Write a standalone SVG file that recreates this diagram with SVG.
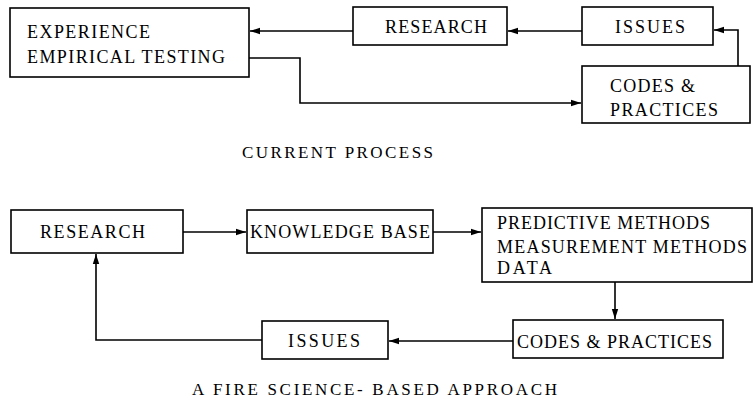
<svg xmlns="http://www.w3.org/2000/svg" width="755" height="400" viewBox="0 0 755 400">
  <style>
    .box { fill: #fff; stroke: #000; stroke-width: 1.6; }
    .lbl { font-family: "Liberation Serif", "Times New Roman", serif; font-size: 18px; fill: #000; }
    .cap { font-family: "Liberation Serif", "Times New Roman", serif; font-size: 17px; fill: #000; }
    .wire { fill: none; stroke: #000; stroke-width: 1.6; }
  </style>
  <defs>
    <marker id="head" markerUnits="userSpaceOnUse" markerWidth="10" markerHeight="8" refX="10" refY="4" orient="auto">
      <path d="M0,0.8 L10,4 L0,7.2 z" fill="#000"/>
    </marker>
  </defs>
  <rect width="755" height="400" fill="#fff"/>

  <!-- current process -->
  <g id="experience">
    <rect class="box" x="10" y="8" width="239" height="69"/>
    <text class="lbl" x="27" y="38" textLength="123" lengthAdjust="spacing">EXPERIENCE</text>
    <text class="lbl" x="27" y="63" textLength="198" lengthAdjust="spacing">EMPIRICAL TESTING</text>
  </g>
  <g id="research-top">
    <rect class="box" x="353" y="7" width="154" height="38"/>
    <text class="lbl" x="385" y="33" textLength="102" lengthAdjust="spacing">RESEARCH</text>
  </g>
  <g id="issues-top">
    <rect class="box" x="582" y="7" width="131" height="38"/>
    <text class="lbl" x="615" y="33" textLength="70" lengthAdjust="spacing">ISSUES</text>
  </g>
  <g id="codes-top">
    <rect class="box" x="582" y="66" width="168" height="57"/>
    <text class="lbl" x="610" y="92" textLength="85" lengthAdjust="spacing">CODES &amp;</text>
    <text class="lbl" x="610" y="116" textLength="108" lengthAdjust="spacing">PRACTICES</text>
  </g>
  <text class="cap" x="242" y="158" textLength="191" lengthAdjust="spacing">CURRENT PROCESS</text>

  <!-- fire science-based approach -->
  <g id="research-bottom">
    <rect class="box" x="11" y="210" width="172" height="43"/>
    <text class="lbl" x="40" y="238" textLength="105" lengthAdjust="spacing">RESEARCH</text>
  </g>
  <g id="knowledge-base">
    <rect class="box" x="247" y="210" width="186" height="43"/>
    <text class="lbl" x="250" y="238" textLength="180" lengthAdjust="spacing">KNOWLEDGE BASE</text>
  </g>
  <g id="methods">
    <rect class="box" x="482" y="208" width="270" height="74"/>
    <text class="lbl" x="497" y="229" textLength="213" lengthAdjust="spacing">PREDICTIVE METHODS</text>
    <text class="lbl" x="497" y="253" textLength="250" lengthAdjust="spacing">MEASUREMENT METHODS</text>
    <text class="lbl" x="497" y="274" textLength="55" lengthAdjust="spacing">DATA</text>
  </g>
  <g id="codes-bottom">
    <rect class="box" x="513" y="320" width="210" height="38"/>
    <text class="lbl" x="517" y="348" textLength="195" lengthAdjust="spacing">CODES &amp; PRACTICES</text>
  </g>
  <g id="issues-bottom">
    <rect class="box" x="262" y="321" width="126" height="38"/>
    <text class="lbl" x="288" y="347" textLength="72" lengthAdjust="spacing">ISSUES</text>
  </g>
  <text class="cap" x="192" y="395" textLength="365" lengthAdjust="spacing">A FIRE SCIENCE- BASED APPROACH</text>

  <g id="connectors">
    <path class="wire" d="M582,31 L508,31" marker-end="url(#head)"/>
    <path class="wire" d="M353,31 L250,31" marker-end="url(#head)"/>
    <path class="wire" d="M738,66 L738,30 L714,30" marker-end="url(#head)"/>
    <path class="wire" d="M249,58 L300,58 L300,103 L581,103" marker-end="url(#head)"/>
    <path class="wire" d="M183,232 L246,232" marker-end="url(#head)"/>
    <path class="wire" d="M433,232 L481,232" marker-end="url(#head)"/>
    <path class="wire" d="M615,282 L615,319" marker-end="url(#head)"/>
    <path class="wire" d="M513,341 L389,341" marker-end="url(#head)"/>
    <path class="wire" d="M262,340 L96,340 L96,254" marker-end="url(#head)"/>
  </g>
</svg>
